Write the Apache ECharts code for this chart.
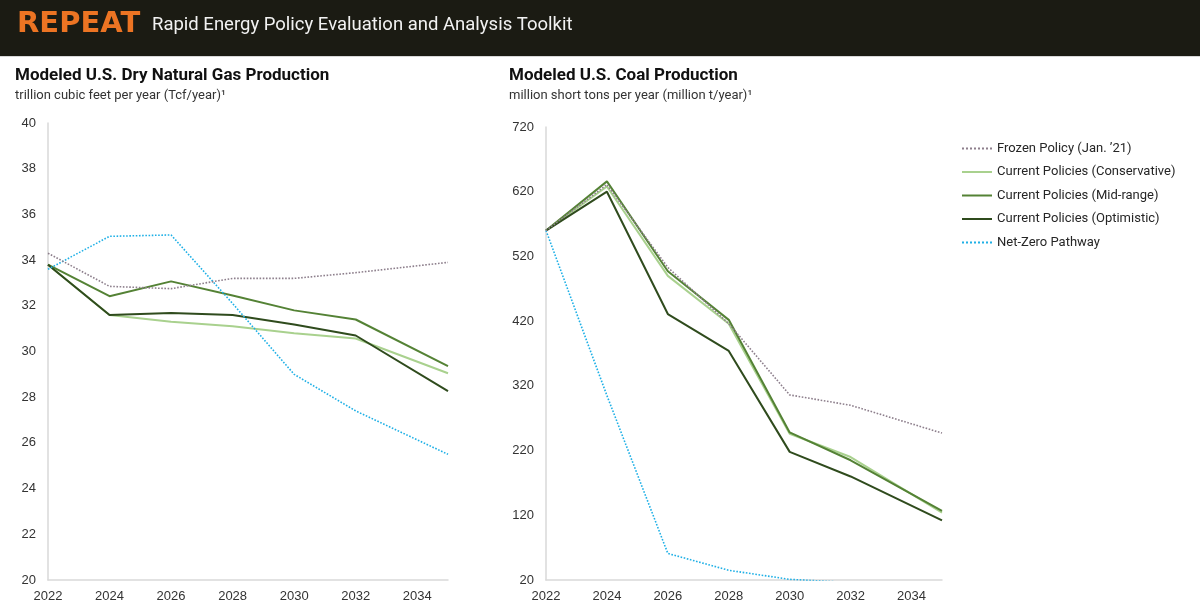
<!DOCTYPE html>
<html>
<head>
<meta charset="utf-8">
<script src="https://cdn.jsdelivr.net/npm/echarts@6/dist/echarts.min.js"></script>
<style>
html,body{margin:0;padding:0;background:#fff;}
#main{width:1200px;height:607px;}
</style>
</head>
<body>
<div id="main"></div>
<script>
// ---- data ----
var years = [2022, 2024, 2026, 2028, 2030, 2032, 2035];
var seriesNames = ['Frozen Policy (Jan. \u201921)', 'Current Policies (Conservative)', 'Current Policies (Mid-range)', 'Current Policies (Optimistic)', 'Net-Zero Pathway'];

// Natural gas, Tcf/year
var gasFrozen       = [34.3, 32.85, 32.75, 33.2, 33.2, 33.45, 33.9];
var gasConservative = [33.8, 31.6, 31.3, 31.1, 30.8, 30.57, 29.05];
var gasMidRange     = [33.8, 32.42, 33.07, 32.45, 31.8, 31.4, 29.36];
var gasOptimistic   = [33.8, 31.6, 31.68, 31.6, 31.18, 30.7, 28.27];
var gasNetZero      = [33.6, 35.04, 35.1, 32.1, 29.0, 27.4, 25.5];

// Coal, million short tons/year
var coalFrozen       = [560, 631, 503, 416, 306, 290, 247];
var coalConservative = [560, 628, 490, 416, 246, 210, 124];
var coalMidRange     = [560, 636, 497, 422, 248, 205, 127];
var coalOptimistic   = [560, 620, 431, 374, 218, 180, 112];
var coalNetZero      = [560, 305, 61, 35, 21, 16, 10];

var gasTicks = {min: 20, max: 40, interval: 2};
var coalTicks = {min: 20, max: 720, interval: 100};
var yearTicks = {min: 2022, max: 2035, interval: 2};

// ---- styles ----
var styles = [
  {color: '#8d7f8c', type: 'dotted', width: 1.6},
  {color: '#a9d18e', type: 'solid', width: 2},
  {color: '#548235', type: 'solid', width: 2},
  {color: '#2f4b1d', type: 'solid', width: 2},
  {color: '#1fb0e6', type: 'dotted', width: 1.6}
];

function pairs(vals) {
  return years.map(function (y, i) { return [y, vals[i]]; });
}

var gasSets = [gasFrozen, gasConservative, gasMidRange, gasOptimistic, gasNetZero];
var coalSets = [coalFrozen, coalConservative, coalMidRange, coalOptimistic, coalNetZero];

var series = [];
[gasSets, coalSets].forEach(function (sets, gi) {
  sets.forEach(function (vals, si) {
    var st = styles[si];
    series.push({
      name: seriesNames[si],
      type: 'line',
      xAxisIndex: gi,
      yAxisIndex: gi,
      data: pairs(vals),
      symbol: 'none',
      clip: true,
      z: si === 4 ? 3 : (si === 0 ? 4 : 2),
      itemStyle: {color: st.color},
      lineStyle: {color: st.color, type: st.type, width: st.width},
      emphasis: {disabled: true}
    });
  });
});

var axisFont = '"Liberation Sans", Arial, sans-serif';
var uiFont = 'Roboto, "Noto Sans", sans-serif';

function xAxis(gi) {
  return {
    type: 'value', gridIndex: gi,
    min: yearTicks.min, max: yearTicks.max, interval: yearTicks.interval,
    axisLine: {show: true, lineStyle: {color: '#d9d9d9', width: 1.5}},
    axisTick: {show: false},
    splitLine: {show: false},
    axisLabel: {
      color: '#333', fontSize: 13, fontFamily: axisFont, margin: 10,
      showMaxLabel: false, showMinLabel: true,
      formatter: function (v) { return String(v); }
    }
  };
}
function yAxis(gi, t) {
  return {
    type: 'value', gridIndex: gi,
    min: t.min, max: t.max, interval: t.interval,
    axisLine: {show: true, lineStyle: {color: '#d9d9d9', width: 1.5}},
    axisTick: {show: false},
    splitLine: {show: false},
    axisLabel: {color: '#333', fontSize: 13, fontFamily: axisFont, margin: 12,
      showMaxLabel: true, showMinLabel: true}
  };
}

var chart = echarts.init(document.getElementById('main'), null, {renderer: 'canvas'});
chart.setOption({
  backgroundColor: '#ffffff',
  animation: false,
  graphic: [
    {type: 'rect', left: 0, top: 0, shape: {width: 1200, height: 56}, style: {fill: '#1b1b13'}, z: 0},
    {type: 'rect', left: 0, top: 56, shape: {width: 1200, height: 1}, style: {fill: '#d8d8d8'}, z: 0}
  ],
  title: [
    {text: 'REPEAT', left: 17, top: 10, padding: 0, textStyle: {color: '#ec7423', fontSize: 29, fontWeight: 900, fontFamily: '"DejaVu Sans", sans-serif'}},
    {text: 'Rapid Energy Policy Evaluation and Analysis Toolkit', left: 152, top: 16, padding: 0, textStyle: {color: '#f2f2f2', fontSize: 18.5, fontWeight: 'normal', fontFamily: uiFont}},
    {text: 'Modeled U.S. Dry Natural Gas Production', left: 15, top: 67, padding: 0, textStyle: {color: '#111', fontSize: 17, fontWeight: 'bold', fontFamily: uiFont},
     subtext: 'trillion cubic feet per year (Tcf/year)\u00b9', itemGap: 5, subtextStyle: {color: '#333', fontSize: 13, fontFamily: uiFont}},
    {text: 'Modeled U.S. Coal Production', left: 509, top: 67, padding: 0, textStyle: {color: '#111', fontSize: 17, fontWeight: 'bold', fontFamily: uiFont},
     subtext: 'million short tons per year (million t/year)\u00b9', itemGap: 5, subtextStyle: {color: '#333', fontSize: 13, fontFamily: uiFont}}
  ],
  legend: {
    orient: 'vertical', left: 961, top: 142, padding: 0,
    itemWidth: 30, itemHeight: 12, itemGap: 10.5,
    itemStyle: {opacity: 0},
    data: seriesNames,
    textStyle: {color: '#262626', fontSize: 13, fontFamily: uiFont},
    selectedMode: false
  },
  grid: [
    {left: 48, top: 123, width: 400, height: 457, containLabel: false},
    {left: 546, top: 127, width: 396, height: 453, containLabel: false}
  ],
  xAxis: [xAxis(0), xAxis(1)],
  yAxis: [yAxis(0, gasTicks), yAxis(1, coalTicks)],
  series: series
});
</script>
</body>
</html>
